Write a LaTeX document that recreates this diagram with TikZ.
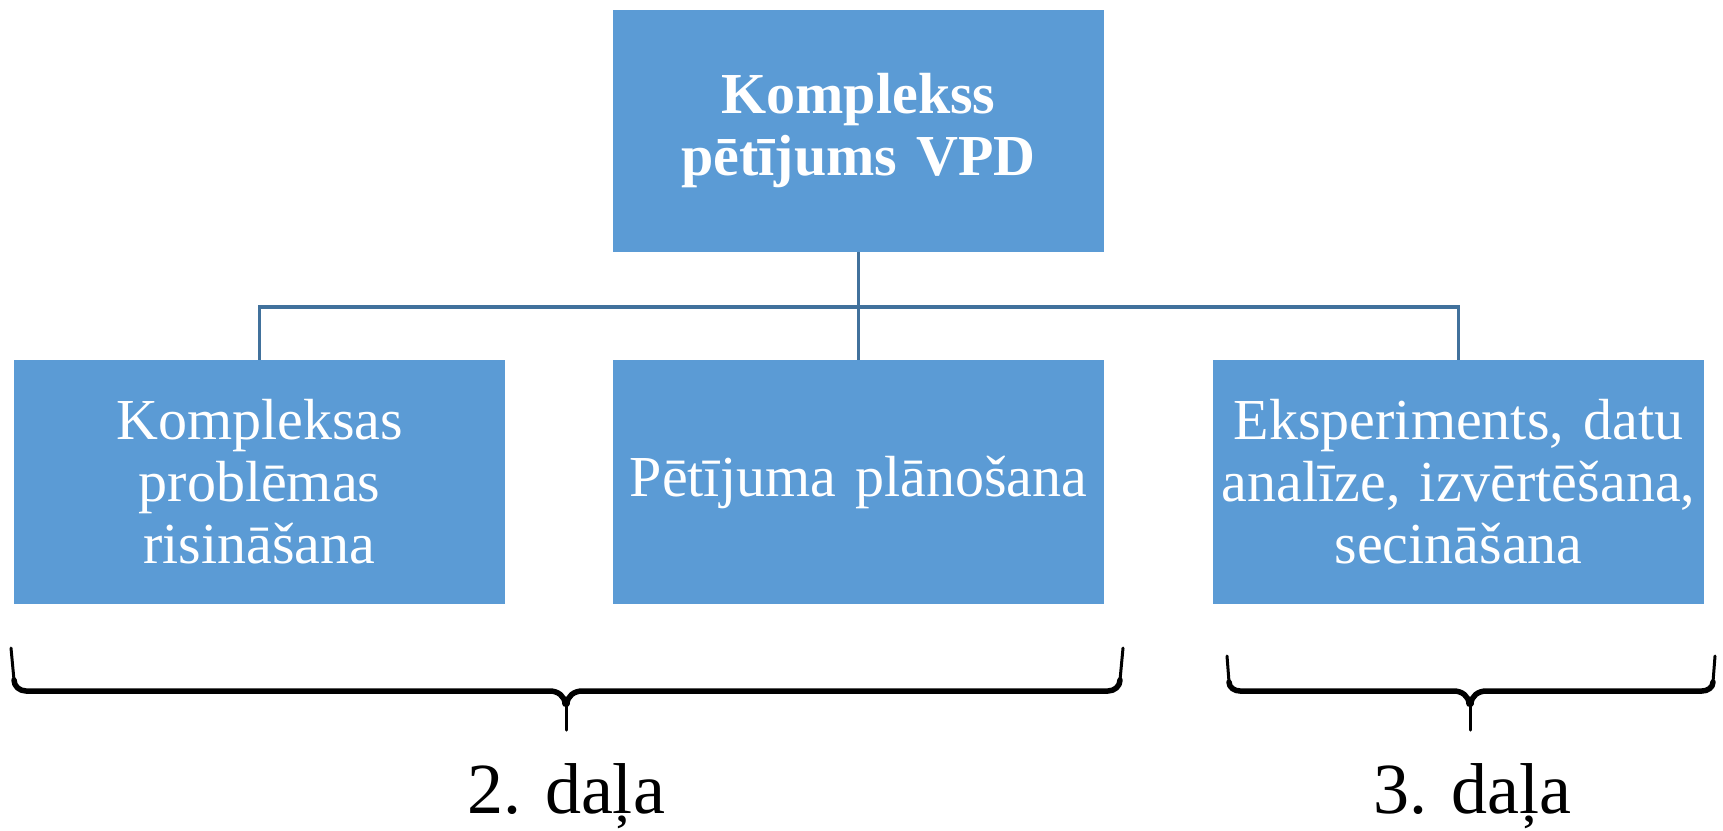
\documentclass[tikz,border=0pt]{standalone}
\usepackage{fontspec}
\setmainfont{Liberation Serif}
\definecolor{boxblue}{HTML}{5B9BD5}
\definecolor{linkblue}{HTML}{41719C}
\tikzset{
  box/.style={fill=boxblue, draw=none, minimum width=491pt, inner sep=0pt,
    text width=485pt, align=center, text=white, font=\fontsize{58}{62}\selectfont},
  topbox/.style={box, minimum height=242pt, font=\bfseries\fontsize{58}{62}\selectfont},
  lowbox/.style={box, minimum height=244pt},
  conn/.style={draw=linkblue, line width=3.5pt},
  bracestyle/.style={draw=black, line width=5.5pt, line cap=round, line join=round},
  partlabel/.style={font=\fontsize{72}{76}\selectfont, inner sep=0pt}
}
\begin{document}
\begin{tikzpicture}[x=1pt, y=-1pt]
\useasboundingbox (0,0) rectangle (1723,830);
\node[topbox] (top) at (858.5,131) {Komplekss\\pētījums VPD};
\node[lowbox] (left) at (259.5,482) {Kompleksas\\problēmas\\risināšana};
\node[lowbox] (mid) at (858.5,482) {Pētījuma plānošana};
\node[lowbox] (right) at (1458.5,482) {Eksperiments, datu\\analīze, izvērtēšana,\\secināšana};
\coordinate (hub) at (858.5,307);
\draw[conn] (top.south) -- (mid.north);
\draw[conn] (left.north) |- (hub) -| (right.north);
% brace 2
\coordinate (b2l) at (11,648);
\coordinate (b2r) at (1123,648);
\coordinate (b2t) at (566,730);
\draw[bracestyle, line width=3pt] (b2l) -- (14,680);
\draw[bracestyle] (14,680) to[out=-90,in=180] (26,691) -- (550,691) to[out=0,in=90] (565,704);
\draw[bracestyle] (1120,680) to[out=-90,in=0] (1108,691) -- (582,691) to[out=180,in=90] (567,704);
\draw[bracestyle, line width=3pt] (b2r) -- (1120,680);
\draw[line width=3pt, line cap=round] (566,702) -- (b2t);
\node[partlabel, anchor=base] (p2) at (566,813) {2. daļa};
% brace 3
\coordinate (b3l) at (1227,656);
\coordinate (b3r) at (1715,656);
\coordinate (b3t) at (1470,730);
\draw[bracestyle, line width=3pt] (b3l) -- (1229,682);
\draw[bracestyle] (1229,682) to[out=-90,in=180] (1240,691) -- (1454,691) to[out=0,in=90] (1469,704);
\draw[bracestyle] (1713,682) to[out=-90,in=0] (1702,691) -- (1486,691) to[out=180,in=90] (1471,704);
\draw[bracestyle, line width=3pt] (b3r) -- (1713,682);
\draw[line width=3pt, line cap=round] (1470,702) -- (b3t);
\node[partlabel, anchor=base] (p3) at (1472,813) {3. daļa};
\end{tikzpicture}
\end{document}
